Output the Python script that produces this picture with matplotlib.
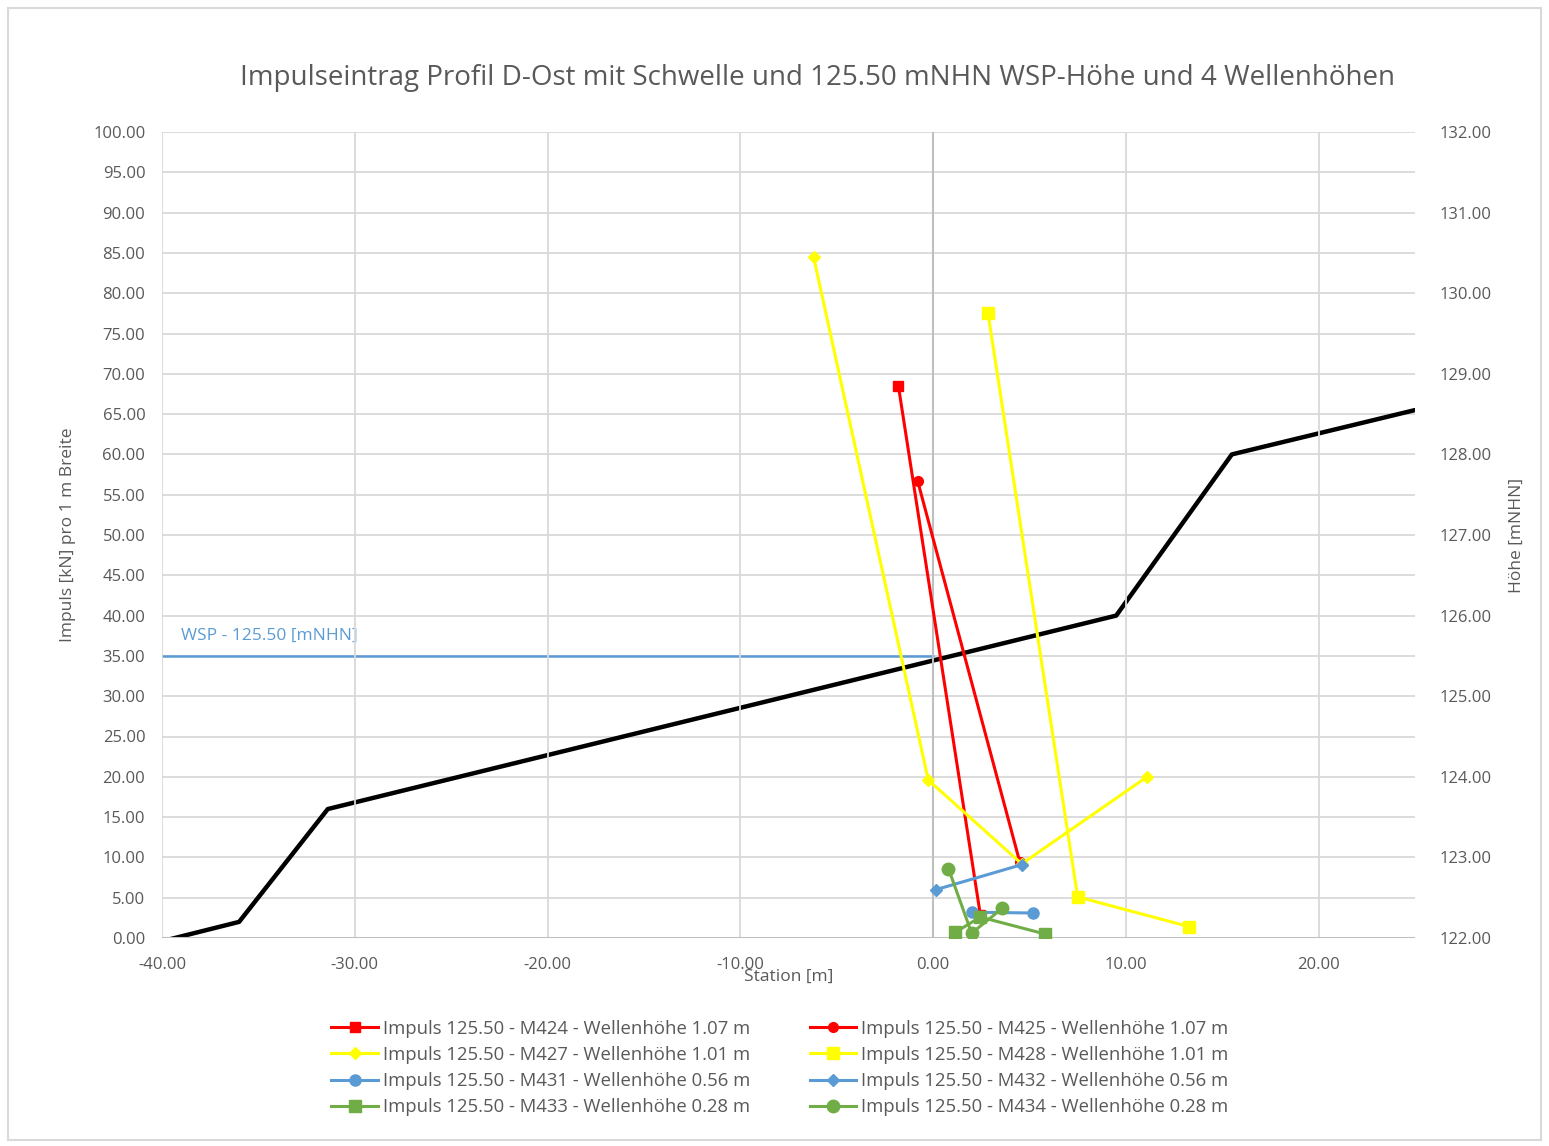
import numpy as np
import matplotlib
matplotlib.use("Agg")
import matplotlib.pyplot as plt
from matplotlib.patches import Rectangle

plt.rcParams['font.family'] = ['Open Sans', 'DejaVu Sans']

# Gelaendeprofil (Hoehe, rechte Achse)
profil_x = [-40.5, -36.0, -31.4, 9.5, 15.5, 25.0]
profil_h = [121.93, 122.2, 123.6, 126.0, 128.0, 128.55]

# Wasserspiegel
wsp_x = [-40.0, 0.0]
wsp_h = [125.5, 125.5]

# Impuls-Reihen (linke Achse)
m424_x = [-1.8, 2.45]
m424_y = [68.5, 2.9]
m425_x = [-0.8, 4.5]
m425_y = [56.7, 9.4]
m427_x = [-6.2, -0.25, 4.6, 11.1]
m427_y = [84.5, 19.6, 9.2, 20.0]
m428_x = [2.85, 7.5, 13.3]
m428_y = [77.5, 5.1, 1.4]
m431_x = [2.0, 5.2]
m431_y = [3.2, 3.1]
m432_x = [0.15, 4.6]
m432_y = [6.0, 9.1]
m433_x = [1.15, 2.45, 5.8]
m433_y = [0.7, 2.6, 0.5]
m434_x = [0.8, 2.0, 3.6]
m434_y = [8.6, 0.6, 3.7]

labels = {
    'M424': 'Impuls 125.50 - M424 - Wellenhöhe 1.07 m',
    'M425': 'Impuls 125.50 - M425 - Wellenhöhe 1.07 m',
    'M427': 'Impuls 125.50 - M427 - Wellenhöhe 1.01 m',
    'M428': 'Impuls 125.50 - M428 - Wellenhöhe 1.01 m',
    'M431': 'Impuls 125.50 - M431 - Wellenhöhe 0.56 m',
    'M432': 'Impuls 125.50 - M432 - Wellenhöhe 0.56 m',
    'M433': 'Impuls 125.50 - M433 - Wellenhöhe 0.28 m',
    'M434': 'Impuls 125.50 - M434 - Wellenhöhe 0.28 m',
}

red = '#ff0000'
yellow = '#ffff00'
blue = '#5b9bd5'
green = '#70ad47'
txt = '#595959'
gridc = '#d9d9d9'

fig = plt.figure(figsize=(15.49, 11.46), dpi=100)
fig.patches.append(Rectangle((0.005, 0.005), 0.99, 0.988, transform=fig.transFigure,
                             fill=False, edgecolor=gridc, lw=1.5))

ax = fig.add_axes([162/1549, 1-938/1146, (1415-162)/1549, (938-132)/1146])
ax2 = ax.twinx()

# secondary axis (profile) behind primary series
ax.set_zorder(ax2.get_zorder() + 1)
ax.patch.set_visible(False)

# horizontal grid lives on ax2 so the WSP line stays visible on top of it
ax2.set_ylim(122, 132)
ax2.set_yticks(np.arange(122, 132.01, 1))
ax2.set_yticks(np.arange(122.5, 132, 1), minor=True)
ax2.set_yticklabels([f'{v:.2f}' for v in np.arange(122, 132.01, 1)])
ax2.grid(True, axis='y', which='both', color=gridc, lw=1.3, zorder=0)
ax2.set_axisbelow(True)

ax2.plot(profil_x, profil_h, color='black', lw=3.2, solid_capstyle='round', zorder=3)
ax2.plot(wsp_x, wsp_h, color=blue, lw=1.8, zorder=3)
ax2.set_ylabel('Höhe [mNHN]', color=txt, fontsize=12.5, labelpad=12)
ax2.text(-39, 125.65, 'WSP - 125.50 [mNHN]', color=blue, fontsize=12.5, va='bottom')

lw = 2.2
ms = 7
h = {}
h['M424'], = ax.plot(m424_x, m424_y, color=red, lw=lw, marker='s', ms=ms)
h['M425'], = ax.plot(m425_x, m425_y, color=red, lw=lw, marker='o', ms=ms)
h['M427'], = ax.plot(m427_x, m427_y, color=yellow, lw=lw, marker='D', ms=ms - 1)
h['M428'], = ax.plot(m428_x, m428_y, color=yellow, lw=lw, marker='s', ms=ms + 1)
h['M431'], = ax.plot(m431_x, m431_y, color=blue, lw=lw, marker='o', ms=ms + 1)
h['M432'], = ax.plot(m432_x, m432_y, color=blue, lw=lw, marker='D', ms=ms - 1)
h['M433'], = ax.plot(m433_x, m433_y, color=green, lw=lw, marker='s', ms=ms + 2)
h['M434'], = ax.plot(m434_x, m434_y, color=green, lw=lw, marker='o', ms=ms + 2)

ax.set_xlim(-40, 25)
ax.set_ylim(0, 100)
ax.set_xticks(np.arange(-40, 21, 10))
ax.set_xticklabels([f'{v:.2f}' for v in np.arange(-40, 21, 10)])
ax.set_yticks(np.arange(0, 100.1, 5))
ax.set_yticklabels([f'{v:.2f}' for v in np.arange(0, 100.1, 5)])
ax.grid(True, axis='x', color=gridc, lw=1.3)
ax.set_axisbelow(True)
ax.axvline(0, color='#bfbfbf', lw=1.5, zorder=1)
ax.axhline(0, color='#bfbfbf', lw=1.5, zorder=1)

for a in (ax, ax2):
    for s in a.spines.values():
        s.set_visible(False)
    a.tick_params(which='both', length=0, labelsize=12, labelcolor=txt)
ax.tick_params(axis='y', pad=12)
ax.tick_params(axis='x', pad=14)
ax2.tick_params(axis='y', pad=18)

ax.set_ylabel('Impuls [kN] pro 1 m Breite', color=txt, fontsize=12.5, labelpad=12)
ax.set_xlabel('Station [m]', color=txt, fontsize=12.5, labelpad=-3)

fig.text(818/1549, 1-78/1146, 'Impulseintrag Profil D-Ost mit Schwelle und 125.50 mNHN WSP-Höhe und 4 Wellenhöhen',
         ha='center', va='center', fontsize=20, color=txt)

order = ['M424', 'M427', 'M431', 'M433', 'M425', 'M428', 'M432', 'M434']
fig.legend([h[k] for k in order], [labels[k] for k in order], ncol=2, frameon=False,
           loc='center', bbox_to_anchor=(780/1549, 1-1068/1146), fontsize=13.3,
           labelcolor=txt, columnspacing=3.2, handlelength=2.5, handletextpad=0.3,
           labelspacing=0.45)

fig.savefig('out.png', dpi=100)
